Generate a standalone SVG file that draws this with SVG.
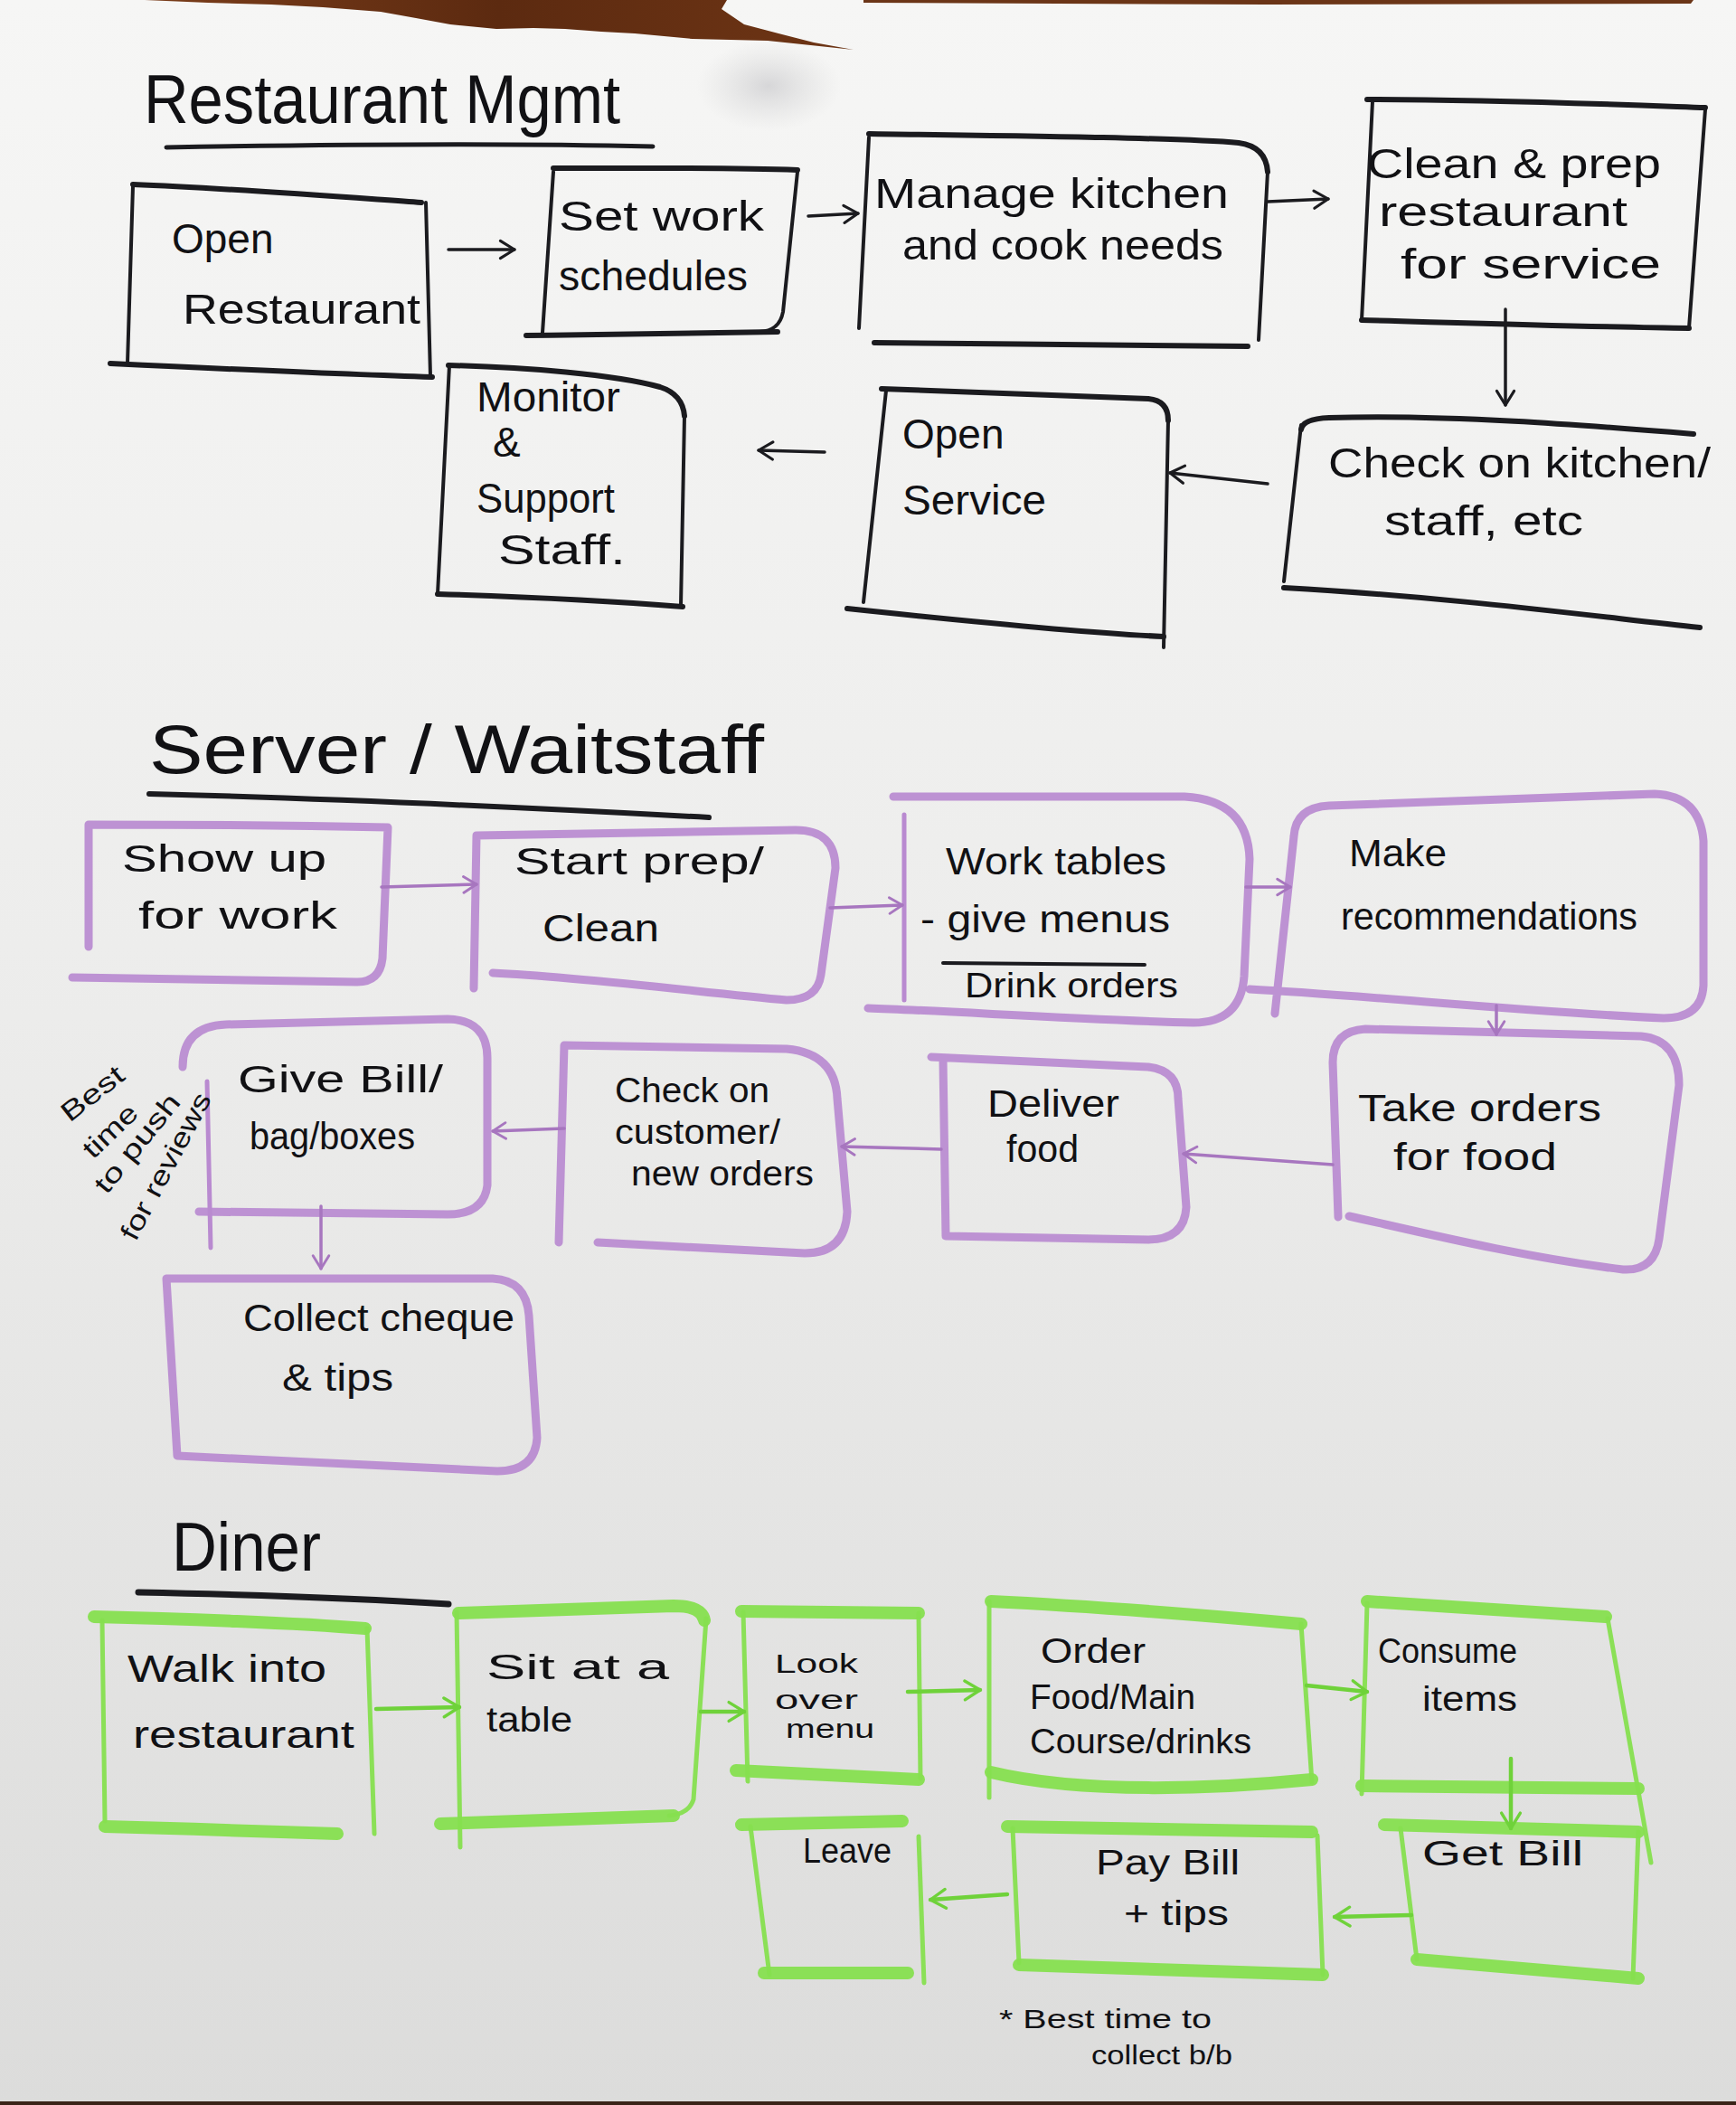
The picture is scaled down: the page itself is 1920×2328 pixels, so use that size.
<svg xmlns="http://www.w3.org/2000/svg" width="1920" height="2328" viewBox="0 0 1920 2328">
<defs>
<linearGradient id="paper" x1="0" y1="0" x2="0" y2="1">
<stop offset="0" stop-color="#f6f6f5"/>
<stop offset="0.45" stop-color="#ededec"/>
<stop offset="1" stop-color="#dcdcdb"/>
</linearGradient>
<linearGradient id="wood" x1="0" y1="0" x2="1" y2="0">
<stop offset="0" stop-color="#7a3d1a"/>
<stop offset="0.5" stop-color="#5c2a10"/>
<stop offset="1" stop-color="#6e3515"/>
</linearGradient>
<radialGradient id="shade" cx="0.5" cy="0.5" r="0.5">
<stop offset="0" stop-color="#c9c9cc" stop-opacity="0.7"/>
<stop offset="1" stop-color="#d6d6d6" stop-opacity="0"/>
</radialGradient>
<marker id="ah-k" viewBox="0 0 20 20" refX="17" refY="10" markerWidth="24" markerHeight="24" markerUnits="userSpaceOnUse" orient="auto">
<path d="M4,2 L17,10 L4,18" fill="none" stroke="#1b1b1f" stroke-width="2.6" stroke-linecap="round" stroke-linejoin="round"/>
</marker>
<marker id="ah-p" viewBox="0 0 20 20" refX="17" refY="10" markerWidth="22" markerHeight="22" markerUnits="userSpaceOnUse" orient="auto">
<path d="M4,2 L17,10 L4,18" fill="none" stroke="#a776bf" stroke-width="2.6" stroke-linecap="round" stroke-linejoin="round"/>
</marker>
<marker id="ah-g" viewBox="0 0 20 20" refX="17" refY="10" markerWidth="26" markerHeight="26" markerUnits="userSpaceOnUse" orient="auto">
<path d="M4,2 L17,10 L4,18" fill="none" stroke="#6fd23a" stroke-width="2.6" stroke-linecap="round" stroke-linejoin="round"/>
</marker>
</defs>
<style>
.ink{fill:none;stroke:#1b1b1f;stroke-linecap:round;stroke-linejoin:round}
.h{stroke-width:6}
.v{stroke-width:4}
.pur{fill:none;stroke:#b98ad0;stroke-width:9;stroke-linecap:round;stroke-linejoin:round;opacity:0.92}
.purthin{fill:none;stroke:#b98ad0;stroke-width:5;stroke-linecap:round}
.grn{fill:none;stroke:#86df4f;stroke-linecap:round;stroke-linejoin:round;opacity:0.95}
.gh{stroke-width:14}
.gv{stroke-width:5}
.ck{fill:none;stroke:#1b1b1f;stroke-width:3.5;stroke-linecap:round;marker-end:url(#ah-k)}
.cp{fill:none;stroke:#a776bf;stroke-width:3.5;stroke-linecap:round;marker-end:url(#ah-p)}
.cg{fill:none;stroke:#6fd23a;stroke-width:4.5;stroke-linecap:round;marker-end:url(#ah-g)}
text{font-family:"Liberation Sans","DejaVu Sans",sans-serif;fill:#111114}
.t1{font-size:46px}
.t2{font-size:42px}
.t3{font-size:38px}
.t4{font-size:30px}
.ttl{font-size:76px}
</style>

<!-- paper background -->
<rect x="0" y="0" width="1920" height="2328" fill="url(#paper)"/>
<ellipse cx="850" cy="95" rx="80" ry="50" fill="url(#shade)"/>
<!-- torn top edge showing the table -->
<path d="M160,0 L230,3 L300,5 L357,8 L421,13 L460,20 L498,27 L549,32 L590,31 L625,32 L665,35 L702,37 L766,43 L849,45 L944,55 L900,47 L861,37 L823,27 L798,10 L804,0 Z" fill="url(#wood)"/>
<path d="M955,0 L1873,0 L1870,4 L1400,5 L955,3 Z" fill="#6b3517"/>
<rect x="0" y="2324" width="1920" height="4" fill="#3a2418"/>

<!-- section titles -->
<g id="title-restaurant-mgmt">
<text class="ttl" x="159" y="136" textLength="527" lengthAdjust="spacingAndGlyphs">Restaurant Mgmt</text>
<path class="ink" d="M184,163 C350,160 550,158 722,162" stroke-width="5"/>
</g>
<g id="title-server">
<text class="ttl" x="165" y="855" font-size="80" textLength="680" lengthAdjust="spacingAndGlyphs">Server / Waitstaff</text>
<path class="ink" d="M165,878 C400,884 600,894 784,904" stroke-width="6"/>
</g>
<g id="title-diner">
<text class="ttl" x="190" y="1737" font-size="58" textLength="165" lengthAdjust="spacingAndGlyphs">Diner</text>
<path class="ink" d="M153,1761 C300,1764 420,1769 496,1774" stroke-width="7"/>
</g>

<!-- Restaurant Mgmt nodes -->
<g id="n-open-restaurant">
<path class="ink h" d="M147,204 C250,208 380,218 466,224"/>
<path class="ink v" d="M147,206 L141,402"/>
<path class="ink h" d="M122,402 C250,408 380,414 478,417"/>
<path class="ink v" d="M471,224 L476,416"/>
<text class="t1" x="190" y="280">Open</text>
<text class="t1" x="202" y="358" textLength="263" lengthAdjust="spacingAndGlyphs">Restaurant</text>
</g>
<g id="n-set-work-schedules">
<path class="ink h" d="M612,186 C700,186 800,185 882,188"/>
<path class="ink v" d="M612,190 L600,368"/>
<path class="ink v" d="M882,190 L866,345 Q862,366 840,367"/>
<path class="ink h" d="M582,371 C680,370 780,368 860,367"/>
<text class="t1" x="618" y="255" textLength="227" lengthAdjust="spacingAndGlyphs">Set work</text>
<text class="t1" x="618" y="321" textLength="209" lengthAdjust="spacingAndGlyphs">schedules</text>
</g>
<g id="n-manage-kitchen">
<path class="ink h" d="M961,148 C1100,150 1300,152 1370,158 Q1400,162 1402,190"/>
<path class="ink v" d="M1402,190 L1392,376"/>
<path class="ink v" d="M961,152 L950,363"/>
<path class="ink h" d="M967,379 C1100,380 1300,383 1380,383"/>
<text class="t1" x="967" y="230" textLength="392" lengthAdjust="spacingAndGlyphs">Manage kitchen</text>
<text class="t1" x="998" y="287" textLength="355" lengthAdjust="spacingAndGlyphs">and cook needs</text>
</g>
<g id="n-clean-prep">
<path class="ink h" d="M1512,110 C1650,110 1800,116 1886,119"/>
<path class="ink v" d="M1886,121 L1868,363"/>
<path class="ink h" d="M1506,354 C1650,358 1780,362 1868,363"/>
<path class="ink v" d="M1518,112 L1506,354"/>
<text class="t1" x="1512" y="197" textLength="325" lengthAdjust="spacingAndGlyphs">Clean &amp; prep</text>
<text class="t1" x="1525" y="250" textLength="275" lengthAdjust="spacingAndGlyphs">restaurant</text>
<text class="t1" x="1549" y="308" textLength="288" lengthAdjust="spacingAndGlyphs">for service</text>
</g>
<g id="n-check-kitchen">
<path class="ink h" d="M1439,475 Q1441,463 1470,462 C1600,458 1750,470 1873,480"/>
<path class="ink v" d="M1439,470 L1420,643"/>
<path class="ink h" d="M1420,650 C1600,660 1750,680 1880,694"/>
<text class="t1" x="1469" y="528" textLength="423" lengthAdjust="spacingAndGlyphs">Check on kitchen/</text>
<text class="t1" x="1531" y="592" textLength="220" lengthAdjust="spacingAndGlyphs">staff, etc</text>
</g>
<g id="n-open-service">
<path class="ink h" d="M975,430 C1100,434 1200,438 1270,441 Q1292,443 1292,465"/>
<path class="ink v" d="M1292,465 L1287,716"/>
<path class="ink v" d="M980,432 L955,666"/>
<path class="ink h" d="M937,673 C1050,685 1200,700 1287,704"/>
<text class="t1" x="998" y="496">Open</text>
<text class="t1" x="998" y="569" textLength="159" lengthAdjust="spacingAndGlyphs">Service</text>
</g>
<g id="n-monitor-support">
<path class="ink h" d="M496,404 C580,406 680,414 730,428 Q755,436 757,460"/>
<path class="ink v" d="M497,404 L484,657"/>
<path class="ink h" d="M484,657 C580,660 680,665 755,671"/>
<path class="ink v" d="M757,460 L753,670"/>
<text class="t1" x="527" y="455" textLength="159" lengthAdjust="spacingAndGlyphs">Monitor</text>
<text class="t1" x="545" y="505">&amp;</text>
<text class="t1" x="527" y="567" textLength="153" lengthAdjust="spacingAndGlyphs">Support</text>
<text class="t1" x="551" y="624" textLength="141" lengthAdjust="spacingAndGlyphs">Staff.</text>
</g>

<!-- Server / Waitstaff nodes -->
<g id="n-show-up">
<path class="pur" d="M98,1047 L98,912 C200,912 330,913 429,915 L423,1060 Q420,1086 395,1086 L80,1081"/>
<text class="t2" x="135" y="964" textLength="226" lengthAdjust="spacingAndGlyphs">Show up</text>
<text class="t2" x="153" y="1027" textLength="220" lengthAdjust="spacingAndGlyphs">for work</text>
</g>
<g id="n-start-prep">
<path class="pur" d="M524,1093 L527,924 L880,918 Q924,918 924,960 L908,1078 Q904,1106 870,1106 C780,1098 640,1080 545,1076"/>
<text class="t2" x="569" y="967" textLength="276" lengthAdjust="spacingAndGlyphs">Start prep/</text>
<text class="t2" x="600" y="1041" textLength="129" lengthAdjust="spacingAndGlyphs">Clean</text>
</g>
<g id="n-work-tables">
<path class="purthin" d="M1000,1106 L1000,901"/>
<path class="pur" d="M988,881 L1310,881 Q1380,885 1382,950 L1376,1080 Q1372,1131 1320,1131 C1200,1128 1050,1118 960,1115"/>
<text class="t2" x="1046" y="967" textLength="244" lengthAdjust="spacingAndGlyphs">Work tables</text>
<text class="t2" x="1018" y="1031" textLength="276" lengthAdjust="spacingAndGlyphs">- give menus</text>
<path class="ink" d="M1043,1065 L1266,1067" stroke-width="4"/>
<text class="t3" x="1067" y="1103" font-size="34" textLength="236" lengthAdjust="spacingAndGlyphs">Drink orders</text>
</g>
<g id="n-make-recommendations">
<path class="pur" d="M1410,1121 L1431,925 Q1433,893 1470,891 L1830,878 Q1880,880 1884,930 L1884,1090 Q1882,1126 1840,1126 C1700,1120 1500,1100 1382,1094"/>
<text class="t2" x="1492" y="958" textLength="108" lengthAdjust="spacingAndGlyphs">Make</text>
<text class="t2" x="1483" y="1028" textLength="328" lengthAdjust="spacingAndGlyphs">recommendations</text>
</g>
<g id="n-take-orders">
<path class="pur" d="M1480,1346 L1474,1175 Q1474,1140 1510,1138 L1815,1146 Q1857,1150 1857,1200 L1835,1370 Q1830,1406 1795,1404 C1680,1390 1560,1360 1492,1345"/>
<text class="t2" x="1502" y="1240" textLength="269" lengthAdjust="spacingAndGlyphs">Take orders</text>
<text class="t2" x="1541" y="1294" textLength="181" lengthAdjust="spacingAndGlyphs">for food</text>
</g>
<g id="n-deliver-food">
<path class="pur" d="M1030,1169 L1270,1180 Q1303,1184 1303,1215 L1312,1335 Q1310,1371 1270,1371 L1046,1367 L1043,1172"/>
<text class="t2" x="1092" y="1235" textLength="146" lengthAdjust="spacingAndGlyphs">Deliver</text>
<text class="t2" x="1113" y="1285" textLength="80" lengthAdjust="spacingAndGlyphs">food</text>
</g>
<g id="n-check-customer">
<path class="pur" d="M618,1374 L624,1156 L870,1160 Q924,1165 926,1215 L937,1340 Q935,1386 890,1386 L661,1374"/>
<text class="t3" x="680" y="1219" textLength="171" lengthAdjust="spacingAndGlyphs">Check on</text>
<text class="t3" x="680" y="1265" textLength="183" lengthAdjust="spacingAndGlyphs">customer/</text>
<text class="t3" x="698" y="1311" textLength="202" lengthAdjust="spacingAndGlyphs">new orders</text>
</g>
<g id="n-give-bill">
<path class="pur" d="M202,1180 Q202,1135 250,1133 L495,1127 Q539,1128 539,1170 L539,1311 Q535,1343 495,1343 L220,1340"/>
<path class="purthin" d="M229,1196 L233,1380"/>
<text class="t2" x="263" y="1208" textLength="227" lengthAdjust="spacingAndGlyphs">Give Bill/</text>
<text class="t2" x="276" y="1271" textLength="183" lengthAdjust="spacingAndGlyphs">bag/boxes</text>
</g>
<g id="note-reviews">
<text class="t4" transform="translate(77,1242) rotate(-38)" textLength="80" lengthAdjust="spacingAndGlyphs">Best</text>
<text class="t4" transform="translate(103,1283) rotate(-44)" textLength="72" lengthAdjust="spacingAndGlyphs">time</text>
<text class="t4" transform="translate(118,1322) rotate(-51)" textLength="132" lengthAdjust="spacingAndGlyphs">to push</text>
<text class="t4" transform="translate(150,1374) rotate(-62)" font-size="27" textLength="180" lengthAdjust="spacingAndGlyphs">for reviews</text>
</g>
<g id="n-collect-cheque">
<path class="pur" d="M196,1610 L184,1414 L545,1414 Q582,1416 585,1455 L594,1590 Q592,1627 550,1627 L196,1610"/>
<text class="t2" x="269" y="1472" textLength="300" lengthAdjust="spacingAndGlyphs">Collect cheque</text>
<text class="t2" x="312" y="1538" textLength="123" lengthAdjust="spacingAndGlyphs">&amp; tips</text>
</g>

<!-- Diner nodes -->
<g id="n-walk-into">
<path class="grn gh" d="M104,1788 C200,1790 330,1795 404,1801"/>
<path class="grn gv" d="M113,1792 L116,2014"/>
<path class="grn gv" d="M406,1801 L414,2028"/>
<path class="grn gh" d="M116,2020 C200,2022 300,2026 373,2028"/>
<text class="t2" x="141" y="1860" textLength="220" lengthAdjust="spacingAndGlyphs">Walk into</text>
<text class="t2" x="147" y="1933" textLength="245" lengthAdjust="spacingAndGlyphs">restaurant</text>
</g>
<g id="n-sit-table">
<path class="grn gh" d="M507,1784 L745,1776 Q776,1776 779,1792"/>
<path class="grn gv" d="M505,1783 L509,2043"/>
<path class="grn gv" d="M781,1790 L767,1990 Q762,2006 740,2008"/>
<path class="grn gh" d="M487,2017 L745,2008"/>
<text class="t3" x="538" y="1857" textLength="202" lengthAdjust="spacingAndGlyphs">Sit at a</text>
<text class="t3" x="538" y="1915" textLength="95" lengthAdjust="spacingAndGlyphs">table</text>
</g>
<g id="n-look-menu">
<path class="grn gh" d="M820,1782 L1016,1784"/>
<path class="grn gv" d="M822,1783 L827,1970"/>
<path class="grn gv" d="M1016,1784 L1018,1967"/>
<path class="grn gh" d="M814,1958 L1016,1968"/>
<text class="t4" x="857" y="1850" font-size="34" textLength="92" lengthAdjust="spacingAndGlyphs">Look</text>
<text class="t4" x="857" y="1890" font-size="34" textLength="92" lengthAdjust="spacingAndGlyphs">over</text>
<text class="t4" x="869" y="1922" font-size="34" textLength="98" lengthAdjust="spacingAndGlyphs">menu</text>
</g>
<g id="n-order-food">
<path class="grn gh" d="M1096,1771 C1200,1776 1350,1788 1439,1796"/>
<path class="grn gv" d="M1094,1771 L1094,1988"/>
<path class="grn gv" d="M1439,1796 L1451,1971"/>
<path class="grn gh" d="M1096,1960 C1200,1985 1350,1978 1451,1968"/>
<text class="t3" x="1151" y="1839" textLength="116" lengthAdjust="spacingAndGlyphs">Order</text>
<text class="t3" x="1139" y="1890" textLength="183" lengthAdjust="spacingAndGlyphs">Food/Main</text>
<text class="t3" x="1139" y="1939" textLength="245" lengthAdjust="spacingAndGlyphs">Course/drinks</text>
</g>
<g id="n-consume-items">
<path class="grn gh" d="M1512,1771 L1776,1788"/>
<path class="grn gv" d="M1512,1773 L1506,1984"/>
<path class="grn gv" d="M1778,1790 L1826,2060"/>
<path class="grn gh" d="M1506,1975 L1812,1978"/>
<text class="t3" x="1524" y="1839" textLength="154" lengthAdjust="spacingAndGlyphs">Consume</text>
<text class="t3" x="1573" y="1892" textLength="105" lengthAdjust="spacingAndGlyphs">items</text>
</g>
<g id="n-get-bill">
<path class="grn gh" d="M1531,2018 L1812,2026"/>
<path class="grn gv" d="M1549,2022 L1567,2167"/>
<path class="grn gv" d="M1812,2026 L1806,2188"/>
<path class="grn gh" d="M1567,2167 L1812,2188"/>
<text class="t3" x="1573" y="2063" textLength="178" lengthAdjust="spacingAndGlyphs">Get Bill</text>
</g>
<g id="n-pay-bill">
<path class="grn gh" d="M1114,2020 L1451,2026"/>
<path class="grn gv" d="M1120,2022 L1127,2171"/>
<path class="grn gv" d="M1457,2030 L1463,2184"/>
<path class="grn gh" d="M1127,2173 L1463,2184"/>
<text class="t3" x="1212" y="2073" textLength="159" lengthAdjust="spacingAndGlyphs">Pay Bill</text>
<text class="t3" x="1243" y="2129" textLength="116" lengthAdjust="spacingAndGlyphs">+ tips</text>
</g>
<g id="n-leave">
<path class="grn gh" d="M820,2018 L998,2014"/>
<path class="grn gv" d="M830,2020 L851,2184"/>
<path class="grn gv" d="M1016,2031 L1022,2193"/>
<path class="grn gh" d="M845,2182 L1004,2182"/>
<text class="t3" x="888" y="2060" textLength="98" lengthAdjust="spacingAndGlyphs">Leave</text>
</g>
<g id="note-collect">
<text class="t4" x="1105" y="2243" font-size="32" textLength="235" lengthAdjust="spacingAndGlyphs">* Best time to</text>
<text class="t4" x="1207" y="2283" font-size="32" textLength="156" lengthAdjust="spacingAndGlyphs">collect b/b</text>
</g>

<!-- connectors -->
<g id="connectors">
<path class="ck" d="M496,276 L569,276"/>
<path class="ck" d="M894,239 L949,236"/>
<path class="ck" d="M1402,223 L1469,220"/>
<path class="ck" d="M1665,342 L1665,448"/>
<path class="ck" d="M1402,535 L1294,523"/>
<path class="ck" d="M912,500 L839,498"/>
<path class="cp" d="M422,981 L527,978"/>
<path class="cp" d="M918,1004 L998,1001"/>
<path class="cp" d="M1378,981 L1427,981"/>
<path class="cp" d="M1655,1112 L1655,1144"/>
<path class="cp" d="M1474,1288 L1309,1276"/>
<path class="cp" d="M1041,1271 L931,1268"/>
<path class="cp" d="M624,1248 L545,1251"/>
<path class="cp" d="M355,1334 L355,1403"/>
<path class="cg" d="M416,1890 L508,1888"/>
<path class="cg" d="M775,1893 L823,1893"/>
<path class="cg" d="M1004,1871 L1084,1869"/>
<path class="cg" d="M1445,1864 L1512,1871"/>
<path class="cg" d="M1671,1945 L1671,2022"/>
<path class="cg" d="M1561,2118 L1476,2120"/>
<path class="cg" d="M1114,2095 L1029,2101"/>
</g>
</svg>
